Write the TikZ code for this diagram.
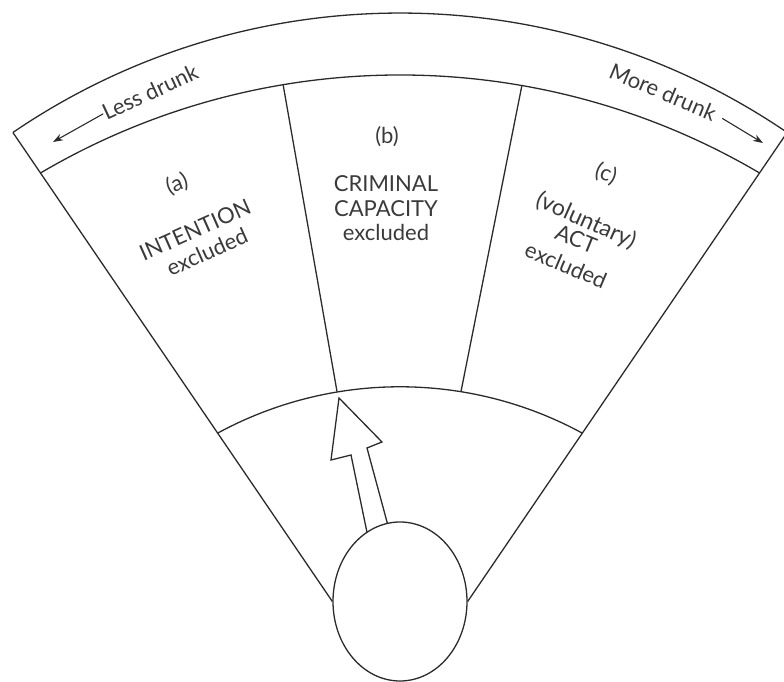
\documentclass[tikz,border=0pt]{standalone}
\usepackage{fontspec}
\setmainfont{Lato}
\usetikzlibrary{shapes.geometric,arrows.meta}
\definecolor{linecol}{HTML}{2B2B2B}
\definecolor{txtcol}{HTML}{3A3A3A}
\begin{document}
\begin{tikzpicture}[x=1pt,y=1pt,
  ln/.style={line width=1.3pt, draw=linecol, line join=miter},
  lbl/.style={text=txtcol, font=\fontsize{22}{24.5}\selectfont, align=center, inner sep=0pt},
  tipline/.style={-{Stealth[length=10pt,width=7pt]}, line width=1.1pt, draw=linecol}]
\clip (0,0) rectangle (784,682);
% fan corners
\coordinate (LO) at (12.9,549.5);
\coordinate (RO) at (787.1,549.5);
\coordinate (dla) at (283,598);
\coordinate (dlb) at (337,290.5);
\coordinate (dra) at (522,597);
\coordinate (drb) at (461,290.5);
% block arrow
\draw[ln, fill=white] (369,140) -- (351,227) -- (331,222) -- (339,284) -- (382,240) -- (367,234) -- (390,149);
% head (ellipse)
\node[ellipse, draw=linecol, line width=1.3pt, fill=white, minimum width=134pt, minimum height=159pt, inner sep=0pt] (head) at (400,80.5) {};
% radial lines
\draw[ln] (LO) -- (head.west);
\draw[ln] (RO) -- (head.east);
% arcs
\draw[ln] (LO) arc[start angle=124.3, end angle=55.7, radius=687];
\draw[ln] (40.5,509.0) arc[start angle=120.5, end angle=59.5, radius=708.4];
\draw[ln] (217.9,249.0) arc[start angle=118.49, end angle=61.51, radius=381.7];
% dividers
\draw[ln] (dla) -- (dlb);
\draw[ln] (dra) -- (drb);
% band labels
\node[lbl, rotate=25] (less) at (150,590) {Less drunk};
\coordinate (lesstip) at (53,540);
\draw[tipline] (less.west) -- (lesstip);
\node[lbl, rotate=-23] (more) at (663,590) {More drunk};
\coordinate (moretip) at (763,539);
\draw[tipline, shorten <=8pt] (more.east) -- (moretip);
% sector labels
\node[lbl, rotate=20] (a) at (177,498) {(a)};
\node[lbl, rotate=24] (aint) at (195,452) {INTENTION};
\node[lbl, rotate=24] (aexc) at (207,430) {excluded};
\node[lbl] (b) at (387,545) {(b)};
\node[lbl] (btext) at (386,473.5) {CRIMINAL\\CAPACITY\\excluded};
\node[lbl, rotate=-20] (c) at (606,508) {(c)};
\node[lbl, rotate=-24, font=\fontsize{23}{24.5}\selectfont] (cvol) at (586,461) {(voluntary)};
\node[lbl, rotate=-22] (cact) at (576,443) {ACT};
\node[lbl, rotate=-23] (cexc) at (566,417) {excluded};
\end{tikzpicture}
\end{document}
